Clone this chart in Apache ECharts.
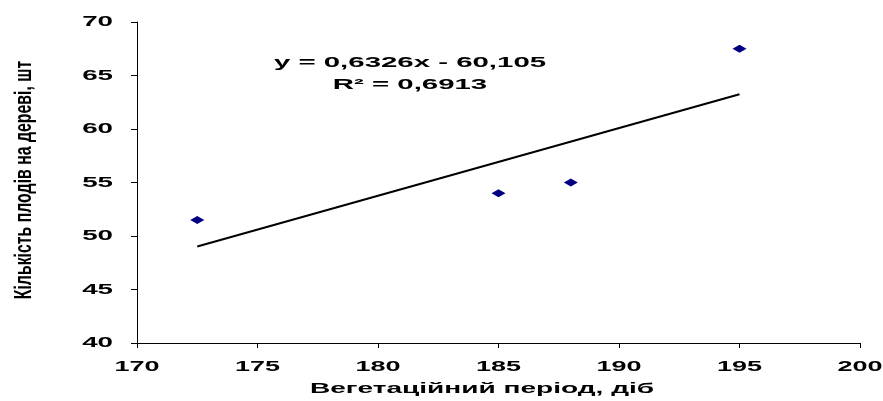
<!DOCTYPE html>
<html><head><meta charset="utf-8">
<script src="https://cdn.jsdelivr.net/npm/echarts@6/dist/echarts.min.js"></script>
<style>html,body{margin:0;padding:0;background:#fff}#c{width:883px;height:401px}</style>
</head><body><div id="c"></div>
<script>
const xValues = [172.5, 185, 188, 195];
const yValues = [51.5, 54, 55, 67.5];
const slope = 0.6326, intercept = -60.105;
const trendX = [172.5, 195];
const xTicks = [170, 175, 180, 185, 190, 195, 200];
const yTicks = [40, 45, 50, 55, 60, 65, 70];
const xTitle = 'Вегетаційний період, діб';
const yTitle = 'Кількість плодів на дереві, шт';
const eqLine1 = 'y = 0,6326x - 60,105';
const eqLine2 = 'R² = 0,6913';

const chart = echarts.init(document.getElementById('c'));
const TICK = 'bold 15px "Liberation Sans", Arial, sans-serif';
const EQ = 'bold 14px "Liberation Sans", Arial, sans-serif';
chart.setOption({
  animation: false,
  grid: {left: 137, right: 23, top: 22, bottom: 58},
  xAxis: {
    type: 'value', min: 170, max: 200, interval: 5,
    axisLine: {show: true, lineStyle: {color: '#000', width: 1}},
    axisTick: {show: true, length: 5, lineStyle: {color: '#000'}},
    splitLine: {show: false},
    axisLabel: {show: false}
  },
  yAxis: {
    type: 'value', min: 40, max: 70, interval: 5,
    axisLine: {show: true, lineStyle: {color: '#000', width: 1}},
    axisTick: {show: true, length: 6, lineStyle: {color: '#000'}},
    splitLine: {show: false},
    axisLabel: {show: false}
  },
  series: [
    {
      type: 'line', data: trendX.map(x => [x, slope * x + intercept]),
      symbol: 'none', lineStyle: {color: '#000', width: 2}, silent: true
    },
    {
      type: 'scatter', data: xValues.map((x, i) => [x, yValues[i]]),
      symbol: 'diamond', symbolSize: [14, 8], itemStyle: {color: '#000080', opacity: 1}
    }
  ]
});

const graphics = [];
xTicks.forEach(v => {
  const p = chart.convertToPixel({xAxisIndex: 0}, v);
  graphics.push({type: 'text', x: p, y: 367, scaleX: 1.8,
    style: {text: String(v), x: 0, y: 0, align: 'center', verticalAlign: 'middle', font: TICK, fill: '#000'}});
});
yTicks.forEach(v => {
  const p = chart.convertToPixel({yAxisIndex: 0}, v);
  graphics.push({type: 'text', x: 113, y: p, scaleX: 1.85,
    style: {text: String(v), x: 0, y: 0, align: 'right', verticalAlign: 'middle', font: TICK, fill: '#000'}});
});
graphics.push({type: 'text', x: 482, y: 389, scaleX: 1.87,
  style: {text: xTitle, x: 0, y: 0, align: 'center', verticalAlign: 'middle', font: 'bold 15px "Liberation Sans", Arial, sans-serif', fill: '#000'}});
graphics.push({type: 'text', x: 24, y: 180, rotation: Math.PI / 2, scaleX: 0.66,
  style: {text: yTitle, x: 0, y: 0, align: 'center', verticalAlign: 'middle', font: 'bold 24px "Liberation Sans", Arial, sans-serif', fill: '#000'}});
graphics.push({type: 'text', x: 410, y: 63, scaleX: 2.1,
  style: {text: eqLine1, x: 0, y: 0, align: 'center', verticalAlign: 'middle', font: EQ, fill: '#000'}});
graphics.push({type: 'text', x: 410, y: 85, scaleX: 2.1,
  style: {text: eqLine2, x: 0, y: 0, align: 'center', verticalAlign: 'middle', font: EQ, fill: '#000'}});
chart.setOption({graphic: graphics});
</script></body></html>
